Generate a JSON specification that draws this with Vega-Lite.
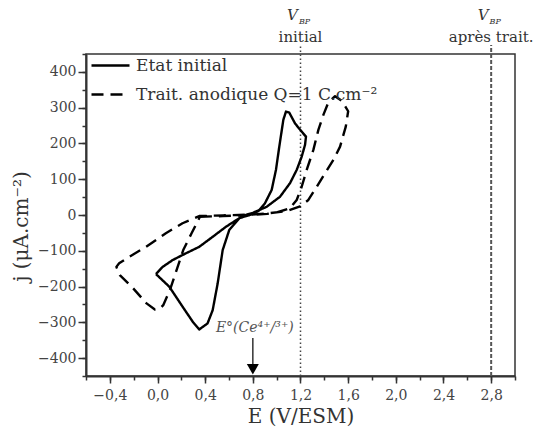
{
  "$schema": "https://vega.github.io/schema/vega-lite/v6.json",
  "width": 429,
  "height": 322,
  "autosize": {"type": "none"},
  "padding": {"left": 86, "top": 54, "right": 19, "bottom": 56},
  "background": "white",
  "config": {
    "font": "DejaVu Serif",
    "view": {"stroke": "#333", "strokeWidth": 1.5},
    "axis": {
      "grid": false,
      "domainColor": "#333",
      "domainWidth": 2,
      "tickColor": "#333",
      "tickWidth": 1.5,
      "labelColor": "#444",
      "titleColor": "#333",
      "labelFont": "DejaVu Serif",
      "titleFont": "DejaVu Serif",
      "titleFontWeight": "normal"
    },
    "text": {"font": "DejaVu Serif"}
  },
  "resolve": {"axis": {"x": "independent", "y": "independent"}},
  "datasets": {
    "cv": [
      {"series": "Etat initial", "order": 1, "E": -0.013, "j": -165},
      {"series": "Etat initial", "order": 2, "E": 0.043, "j": -145},
      {"series": "Etat initial", "order": 3, "E": 0.127, "j": -126},
      {"series": "Etat initial", "order": 4, "E": 0.239, "j": -107},
      {"series": "Etat initial", "order": 5, "E": 0.35, "j": -89},
      {"series": "Etat initial", "order": 6, "E": 0.463, "j": -61},
      {"series": "Etat initial", "order": 7, "E": 0.574, "j": -33},
      {"series": "Etat initial", "order": 8, "E": 0.686, "j": -9},
      {"series": "Etat initial", "order": 9, "E": 0.8, "j": 3},
      {"series": "Etat initial", "order": 10, "E": 0.85, "j": 12},
      {"series": "Etat initial", "order": 11, "E": 0.902, "j": 33},
      {"series": "Etat initial", "order": 12, "E": 0.958, "j": 70},
      {"series": "Etat initial", "order": 13, "E": 0.994, "j": 126},
      {"series": "Etat initial", "order": 14, "E": 1.022, "j": 191},
      {"series": "Etat initial", "order": 15, "E": 1.056, "j": 266},
      {"series": "Etat initial", "order": 16, "E": 1.078, "j": 289},
      {"series": "Etat initial", "order": 17, "E": 1.106, "j": 286},
      {"series": "Etat initial", "order": 18, "E": 1.154, "j": 256},
      {"series": "Etat initial", "order": 19, "E": 1.21, "j": 233},
      {"series": "Etat initial", "order": 20, "E": 1.246, "j": 219},
      {"series": "Etat initial", "order": 21, "E": 1.238, "j": 196},
      {"series": "Etat initial", "order": 22, "E": 1.21, "j": 163},
      {"series": "Etat initial", "order": 23, "E": 1.168, "j": 126},
      {"series": "Etat initial", "order": 24, "E": 1.112, "j": 89},
      {"series": "Etat initial", "order": 25, "E": 1.028, "j": 51},
      {"series": "Etat initial", "order": 26, "E": 0.916, "j": 23},
      {"series": "Etat initial", "order": 27, "E": 0.8, "j": 6},
      {"series": "Etat initial", "order": 28, "E": 0.7, "j": -4},
      {"series": "Etat initial", "order": 29, "E": 0.602, "j": -42},
      {"series": "Etat initial", "order": 30, "E": 0.547, "j": -98},
      {"series": "Etat initial", "order": 31, "E": 0.505, "j": -191},
      {"series": "Etat initial", "order": 32, "E": 0.463, "j": -266},
      {"series": "Etat initial", "order": 33, "E": 0.42, "j": -303},
      {"series": "Etat initial", "order": 34, "E": 0.35, "j": -320},
      {"series": "Etat initial", "order": 35, "E": 0.295, "j": -298},
      {"series": "Etat initial", "order": 36, "E": 0.21, "j": -256},
      {"series": "Etat initial", "order": 37, "E": 0.098, "j": -200},
      {"series": "Etat initial", "order": 38, "E": -0.013, "j": -165},
      {"series": "Trait. anodique Q=1 C.cm⁻²", "order": 1, "E": 0.356, "j": -5},
      {"series": "Trait. anodique Q=1 C.cm⁻²", "order": 2, "E": 0.55, "j": -3},
      {"series": "Trait. anodique Q=1 C.cm⁻²", "order": 3, "E": 0.776, "j": 0},
      {"series": "Trait. anodique Q=1 C.cm⁻²", "order": 4, "E": 0.92, "j": 3},
      {"series": "Trait. anodique Q=1 C.cm⁻²", "order": 5, "E": 1.0, "j": 7},
      {"series": "Trait. anodique Q=1 C.cm⁻²", "order": 6, "E": 1.112, "j": 19},
      {"series": "Trait. anodique Q=1 C.cm⁻²", "order": 7, "E": 1.168, "j": 42},
      {"series": "Trait. anodique Q=1 C.cm⁻²", "order": 8, "E": 1.21, "j": 79},
      {"series": "Trait. anodique Q=1 C.cm⁻²", "order": 9, "E": 1.252, "j": 126},
      {"series": "Trait. anodique Q=1 C.cm⁻²", "order": 10, "E": 1.308, "j": 182},
      {"series": "Trait. anodique Q=1 C.cm⁻²", "order": 11, "E": 1.35, "j": 238},
      {"series": "Trait. anodique Q=1 C.cm⁻²", "order": 12, "E": 1.392, "j": 280},
      {"series": "Trait. anodique Q=1 C.cm⁻²", "order": 13, "E": 1.434, "j": 315},
      {"series": "Trait. anodique Q=1 C.cm⁻²", "order": 14, "E": 1.49, "j": 332},
      {"series": "Trait. anodique Q=1 C.cm⁻²", "order": 15, "E": 1.55, "j": 318},
      {"series": "Trait. anodique Q=1 C.cm⁻²", "order": 16, "E": 1.6, "j": 290},
      {"series": "Trait. anodique Q=1 C.cm⁻²", "order": 17, "E": 1.58, "j": 247},
      {"series": "Trait. anodique Q=1 C.cm⁻²", "order": 18, "E": 1.532, "j": 191},
      {"series": "Trait. anodique Q=1 C.cm⁻²", "order": 19, "E": 1.476, "j": 154},
      {"series": "Trait. anodique Q=1 C.cm⁻²", "order": 20, "E": 1.406, "j": 117},
      {"series": "Trait. anodique Q=1 C.cm⁻²", "order": 21, "E": 1.336, "j": 79},
      {"series": "Trait. anodique Q=1 C.cm⁻²", "order": 22, "E": 1.266, "j": 42},
      {"series": "Trait. anodique Q=1 C.cm⁻²", "order": 23, "E": 1.196, "j": 24},
      {"series": "Trait. anodique Q=1 C.cm⁻²", "order": 24, "E": 1.084, "j": 11},
      {"series": "Trait. anodique Q=1 C.cm⁻²", "order": 25, "E": 0.916, "j": 4},
      {"series": "Trait. anodique Q=1 C.cm⁻²", "order": 26, "E": 0.776, "j": 1},
      {"series": "Trait. anodique Q=1 C.cm⁻²", "order": 27, "E": 0.55, "j": -1},
      {"series": "Trait. anodique Q=1 C.cm⁻²", "order": 28, "E": 0.35, "j": -3},
      {"series": "Trait. anodique Q=1 C.cm⁻²", "order": 29, "E": 0.21, "j": -23},
      {"series": "Trait. anodique Q=1 C.cm⁻²", "order": 30, "E": 0.07, "j": -51},
      {"series": "Trait. anodique Q=1 C.cm⁻²", "order": 31, "E": -0.097, "j": -89},
      {"series": "Trait. anodique Q=1 C.cm⁻²", "order": 32, "E": -0.238, "j": -117},
      {"series": "Trait. anodique Q=1 C.cm⁻²", "order": 33, "E": -0.322, "j": -135},
      {"series": "Trait. anodique Q=1 C.cm⁻²", "order": 34, "E": -0.345, "j": -145},
      {"series": "Trait. anodique Q=1 C.cm⁻²", "order": 35, "E": -0.316, "j": -168},
      {"series": "Trait. anodique Q=1 C.cm⁻²", "order": 36, "E": -0.204, "j": -205},
      {"series": "Trait. anodique Q=1 C.cm⁻²", "order": 37, "E": -0.092, "j": -247},
      {"series": "Trait. anodique Q=1 C.cm⁻²", "order": 38, "E": -0.022, "j": -264},
      {"series": "Trait. anodique Q=1 C.cm⁻²", "order": 39, "E": 0.02, "j": -262},
      {"series": "Trait. anodique Q=1 C.cm⁻²", "order": 40, "E": 0.048, "j": -252},
      {"series": "Trait. anodique Q=1 C.cm⁻²", "order": 41, "E": 0.104, "j": -210},
      {"series": "Trait. anodique Q=1 C.cm⁻²", "order": 42, "E": 0.16, "j": -154},
      {"series": "Trait. anodique Q=1 C.cm⁻²", "order": 43, "E": 0.216, "j": -98},
      {"series": "Trait. anodique Q=1 C.cm⁻²", "order": 44, "E": 0.286, "j": -51},
      {"series": "Trait. anodique Q=1 C.cm⁻²", "order": 45, "E": 0.356, "j": -5}
    ]
  },
  "layer": [
    {
      "data": {"values": [{"E": 1.2, "j": -450, "j2": 475}]},
      "mark": {"type": "rule", "color": "#444", "strokeWidth": 1.5, "strokeDash": [1.5, 2.5]},
      "encoding": {
        "x": {
          "field": "E", "type": "quantitative",
          "scale": {"domain": [-0.6, 3.0], "nice": false, "zero": false},
          "axis": {
            "orient": "bottom", "title": null, "labels": false, "domain": false, "tickSize": 4,
            "values": [-0.6, -0.4, -0.2, 0, 0.2, 0.4, 0.6, 0.8, 1.0, 1.2, 1.4, 1.6, 1.8, 2.0, 2.2, 2.4, 2.6, 2.8, 3.0]
          }
        },
        "y": {
          "field": "j", "type": "quantitative",
          "scale": {"domain": [-450, 450], "nice": false},
          "axis": {
            "orient": "left", "title": null, "labels": false, "domain": false, "tickSize": 4,
            "values": [-450, -400, -350, -300, -250, -200, -150, -100, -50, 0, 50, 100, 150, 200, 250, 300, 350, 400, 450]
          }
        },
        "y2": {"field": "j2"}
      }
    },
    {
      "data": {"values": [{"E": 2.8, "j": -450, "j2": 475}]},
      "mark": {"type": "rule", "color": "#555", "strokeWidth": 2, "strokeDash": [4, 2]},
      "encoding": {
        "x": {"field": "E", "type": "quantitative", "scale": {"domain": [-0.6, 3.0], "nice": false, "zero": false}, "axis": null},
        "y": {"field": "j", "type": "quantitative", "scale": {"domain": [-450, 450], "nice": false}, "axis": null},
        "y2": {"field": "j2"}
      }
    },
    {
      "data": {"name": "cv"},
      "mark": {"type": "line", "color": "black", "strokeWidth": 2.4, "strokeCap": "butt", "strokeJoin": "round"},
      "encoding": {
        "x": {
          "field": "E", "type": "quantitative",
          "scale": {"domain": [-0.6, 3.0], "nice": false, "zero": false},
          "axis": {
            "orient": "bottom",
            "title": "E (V/ESM)",
            "titleFontSize": 20,
            "titlePadding": 4,
            "values": [-0.4, 0, 0.4, 0.8, 1.2, 1.6, 2.0, 2.4, 2.8],
            "labelExpr": "replace(format(datum.value, '.1f'), '.', ',')",
            "tickSize": 7,
            "labelFontSize": 14,
            "labelPadding": 5,
            "labelFlush": false,
            "labelOverlap": false
          }
        },
        "y": {
          "field": "j", "type": "quantitative",
          "scale": {"domain": [-450, 450], "nice": false},
          "axis": {
            "orient": "left",
            "title": "j (μA.cm⁻²)",
            "titleFontSize": 20,
            "titlePadding": 6,
            "titleY": 172,
            "values": [-400, -300, -200, -100, 0, 100, 200, 300, 400],
            "format": "d",
            "tickSize": 8,
            "labelFontSize": 14,
            "labelPadding": 2,
            "labelFlush": false,
            "labelOverlap": false
          }
        },
        "strokeDash": {
          "field": "series", "type": "nominal",
          "scale": {"domain": ["Etat initial", "Trait. anodique Q=1 C.cm⁻²"], "range": [[1, 0], [12, 7]]},
          "legend": {
            "orient": "none",
            "legendX": 4,
            "legendY": -9,
            "title": null,
            "symbolType": "stroke",
            "symbolSize": 1444,
            "symbolStrokeWidth": 2.5,
            "symbolStrokeColor": "black",
            "labelFontSize": 17,
            "labelColor": "#333",
            "labelFont": "DejaVu Serif",
            "labelOffset": 5,
            "rowPadding": -8,
            "padding": 0,
            "labelLimit": 400
          }
        },
        "order": {"field": "order", "type": "quantitative"}
      }
    },
    {
      "data": {"values": [{"E": 0.8, "j": -344, "j2": -418}]},
      "mark": {"type": "rule", "color": "#333", "strokeWidth": 1.5},
      "encoding": {
        "x": {"field": "E", "type": "quantitative", "scale": {"domain": [-0.6, 3.0], "nice": false, "zero": false}, "axis": null},
        "y": {"field": "j", "type": "quantitative", "scale": {"domain": [-450, 450], "nice": false}, "axis": null},
        "y2": {"field": "j2"}
      }
    },
    {
      "data": {"values": [{"E": 0.8, "j": -431}]},
      "mark": {"type": "point", "shape": "triangle-down", "filled": true, "color": "black", "size": 144, "opacity": 1},
      "encoding": {
        "x": {"field": "E", "type": "quantitative", "scale": {"domain": [-0.6, 3.0], "nice": false, "zero": false}, "axis": null},
        "y": {"field": "j", "type": "quantitative", "scale": {"domain": [-450, 450], "nice": false}, "axis": null}
      }
    },
    {
      "data": {"values": [{"E": 0.8, "j": -327, "label": "E°(Ce⁴⁺/³⁺)"}]},
      "mark": {"type": "text", "fontStyle": "italic", "fontSize": 14, "color": "#555", "align": "center", "baseline": "alphabetic", "dx": 2},
      "encoding": {
        "x": {"field": "E", "type": "quantitative", "scale": {"domain": [-0.6, 3.0], "nice": false, "zero": false}, "axis": null},
        "y": {"field": "j", "type": "quantitative", "scale": {"domain": [-450, 450], "nice": false}, "axis": null},
        "text": {"field": "label"}
      }
    },
    {
      "data": {"values": [{"E": 1.2, "j": 545, "label": "V"}, {"E": 2.8, "j": 545, "label": "V"}]},
      "mark": {"type": "text", "fontStyle": "italic", "fontSize": 15, "color": "#333", "align": "center", "baseline": "alphabetic", "dx": -8},
      "encoding": {
        "x": {"field": "E", "type": "quantitative", "scale": {"domain": [-0.6, 3.0], "nice": false, "zero": false}, "axis": null},
        "y": {"field": "j", "type": "quantitative", "scale": {"domain": [-450, 450], "nice": false}, "axis": null},
        "text": {"field": "label"}
      }
    },
    {
      "data": {"values": [{"E": 1.2, "j": 535, "label": "BP"}, {"E": 2.8, "j": 535, "label": "BP"}]},
      "mark": {"type": "text", "fontStyle": "italic", "fontSize": 8, "color": "#333", "align": "center", "baseline": "alphabetic", "dx": 4},
      "encoding": {
        "x": {"field": "E", "type": "quantitative", "scale": {"domain": [-0.6, 3.0], "nice": false, "zero": false}, "axis": null},
        "y": {"field": "j", "type": "quantitative", "scale": {"domain": [-450, 450], "nice": false}, "axis": null},
        "text": {"field": "label"}
      }
    },
    {
      "data": {"values": [{"E": 1.2, "j": 484, "label": "initial"}, {"E": 2.8, "j": 484, "label": "après trait."}]},
      "mark": {"type": "text", "fontSize": 15, "color": "#333", "align": "center", "baseline": "alphabetic"},
      "encoding": {
        "x": {"field": "E", "type": "quantitative", "scale": {"domain": [-0.6, 3.0], "nice": false, "zero": false}, "axis": null},
        "y": {"field": "j", "type": "quantitative", "scale": {"domain": [-450, 450], "nice": false}, "axis": null},
        "text": {"field": "label"}
      }
    }
  ]
}
